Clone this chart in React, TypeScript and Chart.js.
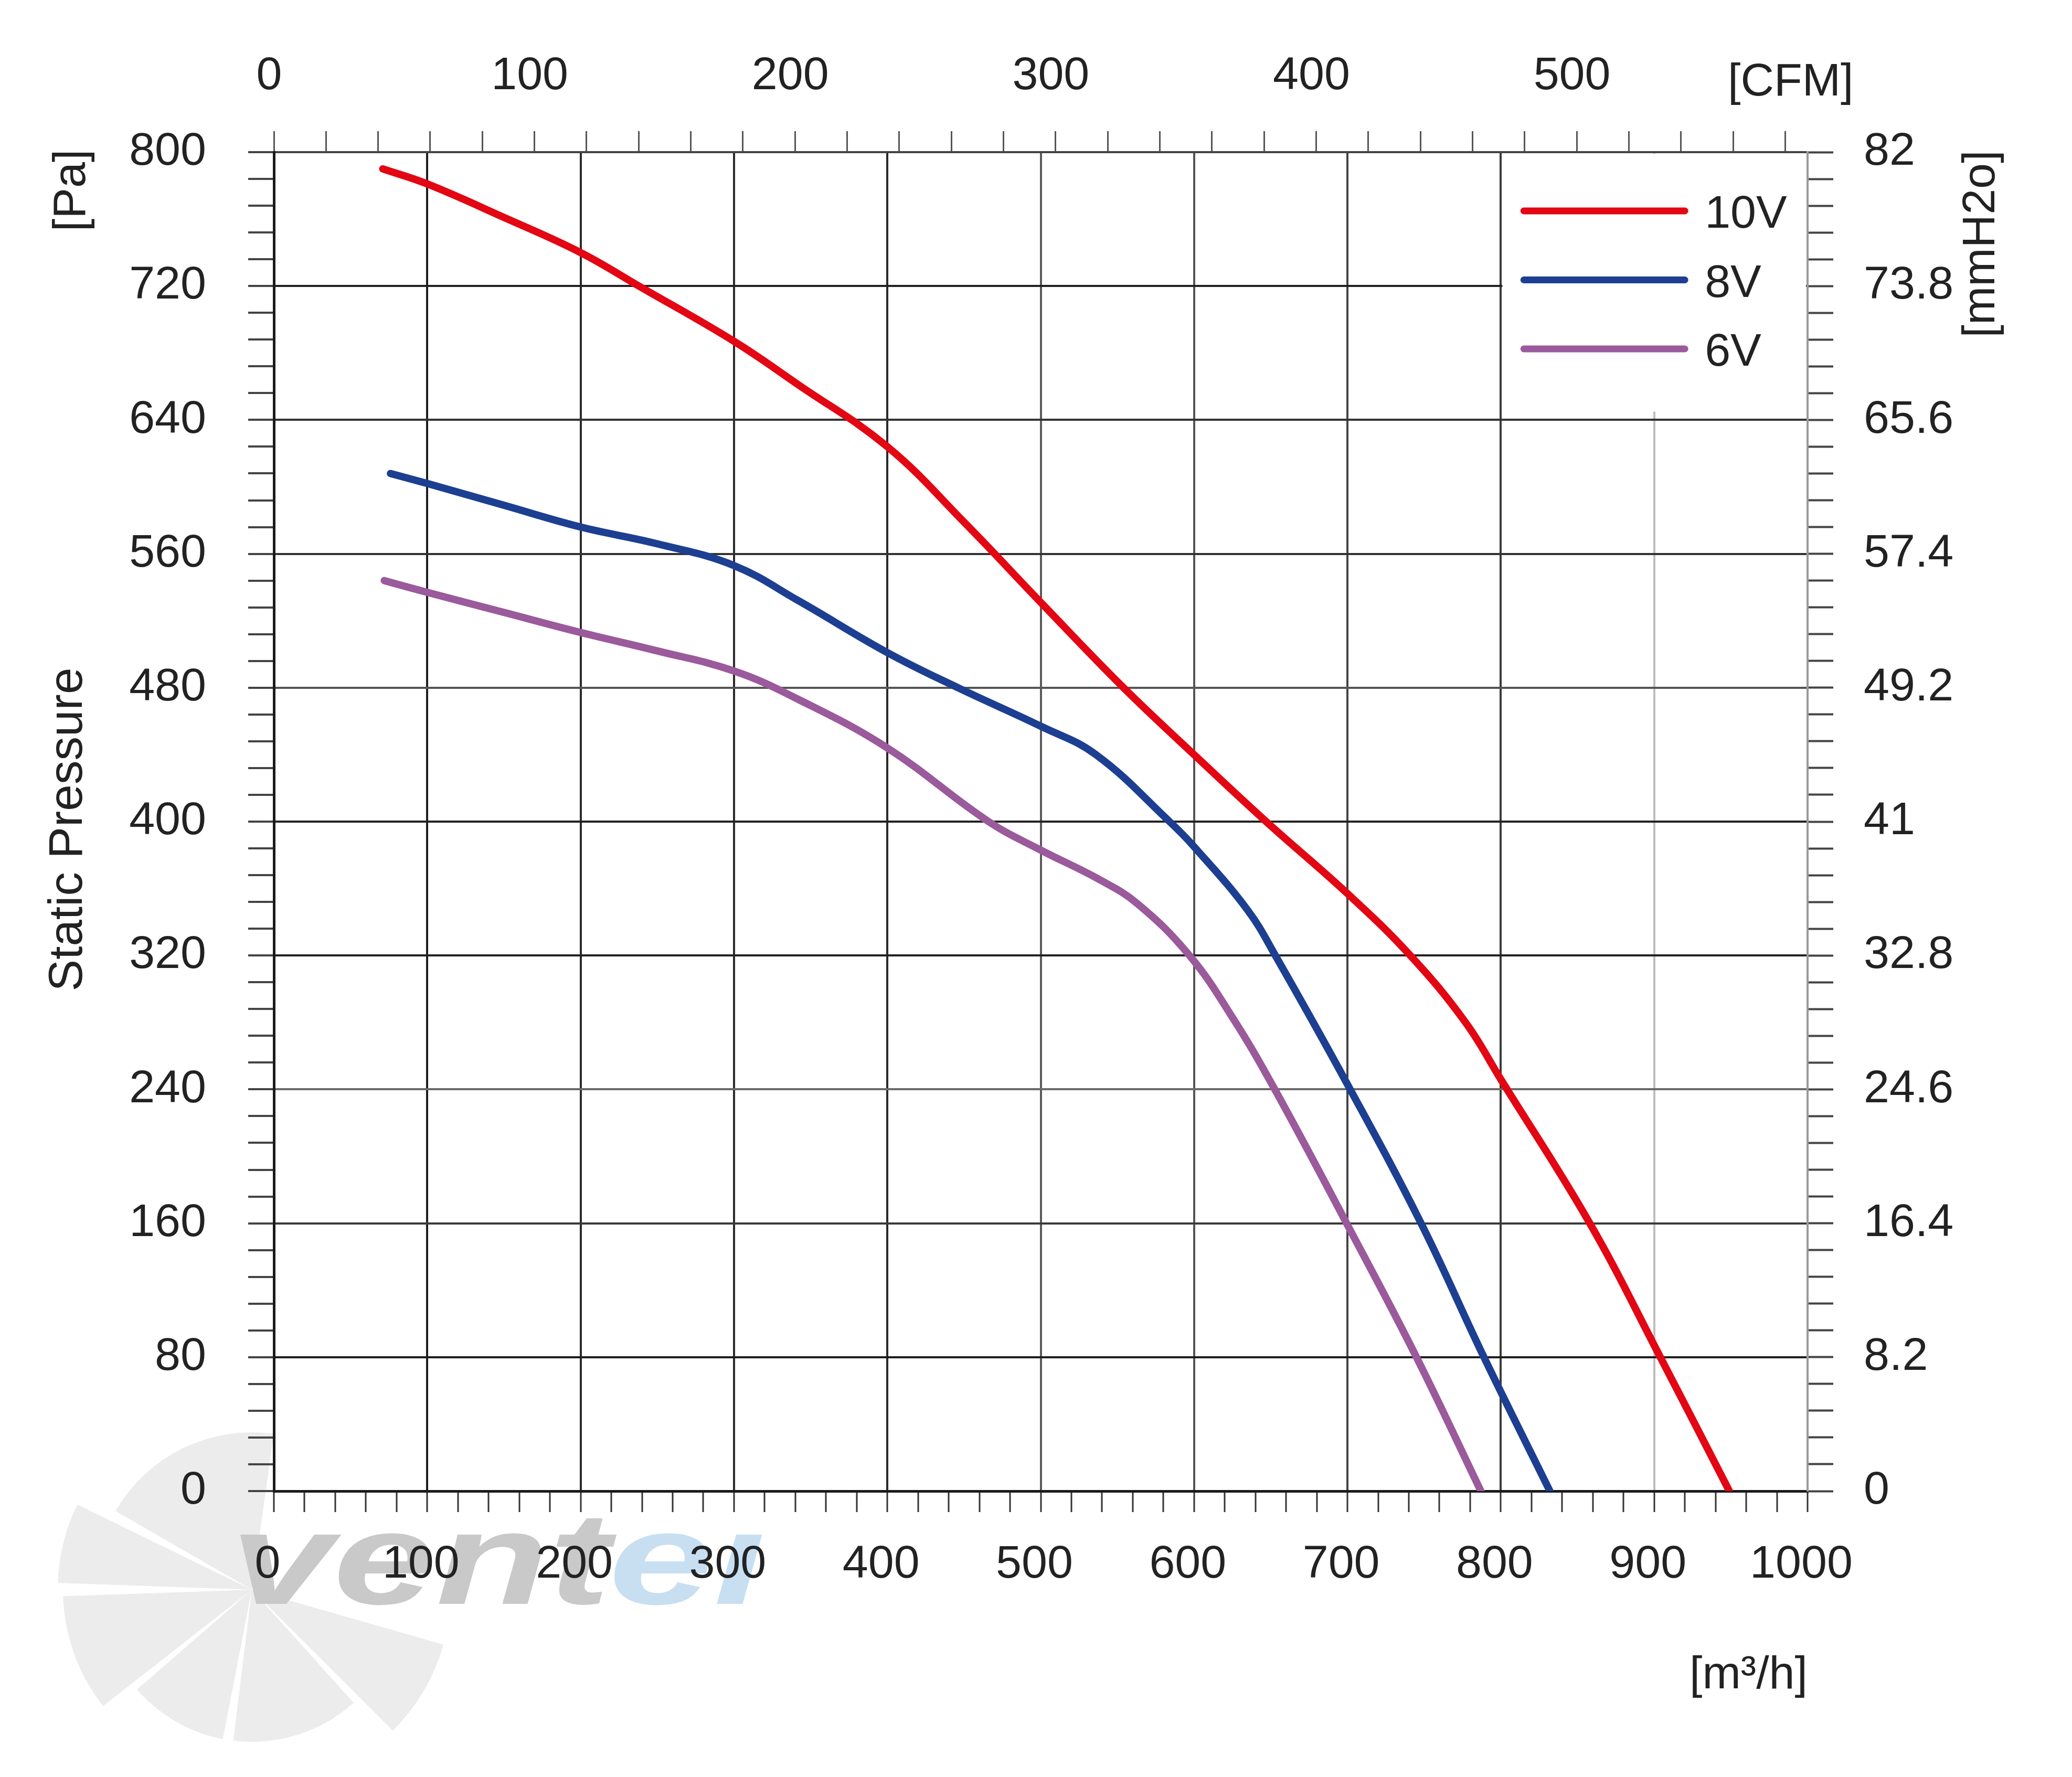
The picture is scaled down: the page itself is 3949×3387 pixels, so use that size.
import React, { useEffect, useRef } from 'react';
import { Chart, registerables } from 'chart.js';

Chart.register(...registerables);

const W = 3949;
const H = 3387;
const FONT = '"Liberation Sans", Arial, sans-serif';

// ---- data ----
const seriesLabels = ['10V', '8V', '6V'];
const seriesColors = ['#e30613', '#1d3f92', '#9a5a9b'];

const flow10V = [71, 100, 150, 200, 238, 300, 342, 400, 451, 500, 554, 600, 647, 700, 741, 777, 800, 858, 904, 949];
const pressure10V = [790, 781, 761, 740, 720, 687, 661, 624, 578, 531, 480, 440, 400, 357, 320, 280, 246, 160, 80, 0];

const flow8V = [76, 100, 150, 200, 250, 300, 342, 400, 446, 500, 536, 584, 600, 635, 653, 700, 748, 789, 832];
const pressure8V = [608, 602, 589, 576, 566, 553, 532, 501, 480, 457, 440, 400, 385, 347, 320, 243, 160, 80, 0];

const flow6V = [72, 100, 150, 200, 250, 300, 342, 400, 466, 500, 537, 563, 597, 625, 652, 700, 745, 787];
const pressure6V = [544, 537, 525, 513, 502, 490, 473, 444, 400, 383, 366, 351, 320, 283, 241, 159, 80, 0];

// axes
const flowMax = 1000; // m3/h
const pressureMax = 800; // Pa
const M3H_PER_CFM = 1.699;
const cfmMax = flowMax / M3H_PER_CFM;
const mmH2oLabels = ['0', '8.2', '16.4', '24.6', '32.8', '41', '49.2', '57.4', '65.6', '73.8', '82'];

// gridline shades (as they appear in the reference)
const vGridShades: Record<number, string> = { 100: '#1e1e1e', 200: '#2a2a2a', 300: '#2a2a2a', 400: '#2a2a2a', 500: '#5a5a5a', 600: '#555555', 700: '#444444', 800: '#3a3a3a', 900: '#bdbdbd' };
const hGridShades: Record<number, string> = { 80: '#1e1e1e', 160: '#3a3a3a', 240: '#6a6a6a', 320: '#222222', 400: '#222222', 480: '#555555', 560: '#333333', 640: '#333333', 720: '#222222' };

const series = [
  { label: seriesLabels[0], color: seriesColors[0], xs: flow10V, ys: pressure10V },
  { label: seriesLabels[1], color: seriesColors[1], xs: flow8V, ys: pressure8V },
  { label: seriesLabels[2], color: seriesColors[2], xs: flow6V, ys: pressure6V },
];

const tickFont = { family: FONT, size: 88 };
const TRANSPARENT = 'rgba(0,0,0,0)';

const watermarkPlugin = {
  id: 'watermark',
  beforeDraw(chart: any) {
    const ctx = chart.ctx as CanvasRenderingContext2D;
    ctx.save();
    const cx = 480, cy = 3030;
    const blades: [number, number, number][] = [
      [-150, -82, 300],
      [-178, -154, 370],
      [142, 178, 360],
      [101, 139, 290],
      [48, 97, 290],
      [16, 45, 380],
    ];
    ctx.fillStyle = '#ececec';
    blades.forEach(([a1, a2, r]) => {
      ctx.beginPath();
      ctx.moveTo(cx, cy);
      ctx.arc(cx, cy, r, (a1 * Math.PI) / 180, (a2 * Math.PI) / 180);
      ctx.closePath();
      ctx.fill();
    });
    // logo text
    ctx.font = `italic bold 250px ${FONT}`;
    ctx.textBaseline = 'alphabetic';
    ctx.textAlign = 'left';
    const w1 = ctx.measureText('vent').width;
    ctx.save();
    ctx.translate(439, 3057);
    ctx.scale(724 / w1, 1);
    ctx.fillStyle = '#c9c9c9';
    ctx.fillText('vent', 0, 0);
    ctx.restore();
    const w2 = ctx.measureText('e\u0131').width;
    ctx.save();
    ctx.translate(1160, 3057);
    ctx.scale(300 / w2, 1);
    ctx.fillStyle = '#c8dff2';
    ctx.fillText('e\u0131', 0, 0);
    ctx.restore();
    ctx.restore();
  },
};

const legendPlugin = {
  id: 'boxLegend',
  beforeDatasetsDraw(chart: any) {
    const { ctx, chartArea, scales } = chart;
    const x0 = scales.x.getPixelForValue(800) + 3;
    const yb = scales.y.getPixelForValue(645);
    ctx.save();
    ctx.fillStyle = '#ffffff';
    ctx.fillRect(x0, chartArea.top + 3, chartArea.right - 3 - x0, yb - chartArea.top - 3);
    const lx1 = scales.x.getPixelForValue(815);
    const lx2 = scales.x.getPixelForValue(920);
    const tx = scales.x.getPixelForValue(933);
    chart.data.datasets.forEach((ds: any, i: number) => {
      const y = chartArea.top + 112 + i * 131.5;
      ctx.strokeStyle = ds.borderColor;
      ctx.lineWidth = 13;
      ctx.lineCap = 'round';
      ctx.beginPath();
      ctx.moveTo(lx1, y);
      ctx.lineTo(lx2, y);
      ctx.stroke();
      ctx.fillStyle = '#222';
      ctx.font = `88px ${FONT}`;
      ctx.textAlign = 'left';
      ctx.textBaseline = 'middle';
      ctx.fillText(ds.label, tx, y + 8);
    });
    ctx.restore();
  },
};

const titlesPlugin = {
  id: 'axisTitles',
  afterDraw(chart: any) {
    const { ctx, chartArea } = chart;
    ctx.save();
    ctx.fillStyle = '#222';
    const rotText = (t: string, x: number, y: number, size: number) => {
      ctx.save();
      ctx.translate(x, y);
      ctx.rotate(-Math.PI / 2);
      ctx.font = `${size}px ${FONT}`;
      ctx.textAlign = 'center';
      ctx.textBaseline = 'middle';
      ctx.fillText(t, 0, 0);
      ctx.restore();
    };
    rotText('[Pa]', 138, 363, 88);
    rotText('Static Pressure', 131, (chartArea.top + chartArea.bottom) / 2 + 15, 91);
    rotText('[mmH2o]', 3777, 465, 88);
    ctx.font = `88px ${FONT}`;
    ctx.textBaseline = 'alphabetic';
    ctx.textAlign = 'left';
    ctx.fillText('[CFM]', 3293, 182);
    ctx.textAlign = 'right';
    ctx.fillText('[m\u00b3/h]', chartArea.right, 3218);
    ctx.restore();
  },
};

export default function App() {
  const ref = useRef<HTMLCanvasElement>(null);
  useEffect(() => {
    if (!ref.current) return;
    const chart = new Chart(ref.current, {
      type: 'line',
      data: {
        datasets: series.map((s) => ({
          label: s.label,
          data: s.xs.map((x, i) => ({ x, y: s.ys[i] })),
          borderColor: s.color,
          backgroundColor: s.color,
          borderWidth: 14,
          pointRadius: 0,
          tension: 0.4,
          borderCapStyle: 'round' as const,
          borderJoinStyle: 'round' as const,
          fill: false,
          xAxisID: 'x',
          yAxisID: 'y',
        })),
      },
      options: {
        responsive: false,
        animation: false,
        devicePixelRatio: 1,
        layout: { padding: 0 },
        plugins: { legend: { display: false }, tooltip: { enabled: false } },
        scales: {
          x: {
            type: 'linear',
            position: 'bottom',
            min: 0,
            max: flowMax,
            afterFit: (s: any) => { s.height = H - 2842; },
            border: { display: true, color: '#1a1a1a', width: 5 },
            grid: {
              color: (c: any) => { const v = c.tick ? c.tick.value : -1; return v % 100 === 0 && vGridShades[v] ? vGridShades[v] : TRANSPARENT; },
              lineWidth: 4,
              tickColor: '#333',
              tickWidth: 3,
              tickLength: 40,
            },
            ticks: {
              stepSize: 20,
              autoSkip: false,
              maxRotation: 0,
              padding: 48,
              labelOffset: -12,
              font: tickFont,
              color: '#222',
              callback: (v: any) => (Number(v) % 100 === 0 ? String(v) : ''),
            },
          },
          x2: {
            type: 'linear',
            position: 'top',
            min: 0,
            max: cfmMax,
            afterFit: (s: any) => { s.height = 290; },
            border: { display: true, color: '#444', width: 4 },
            grid: { drawOnChartArea: false, tickColor: '#555', tickWidth: 3, tickLength: 40 },
            ticks: {
              stepSize: 20,
              includeBounds: false,
              autoSkip: false,
              maxRotation: 0,
              padding: 51,
              labelOffset: -9,
              font: tickFont,
              color: '#222',
              callback: (v: any) => (Number(v) % 100 === 0 ? String(v) : ''),
            },
          },
          y: {
            type: 'linear',
            position: 'left',
            min: 0,
            max: pressureMax,
            afterFit: (s: any) => { s.width = 522; },
            border: { display: true, color: '#1a1a1a', width: 5 },
            grid: {
              color: (c: any) => { const v = c.tick ? c.tick.value : -1; return hGridShades[v] ? hGridShades[v] : TRANSPARENT; },
              lineWidth: 4,
              tickColor: '#444',
              tickWidth: 4,
              tickLength: 49,
            },
            ticks: {
              stepSize: 16,
              autoSkip: false,
              padding: 80,
              font: tickFont,
              color: '#222',
              callback: (v: any) => (Number(v) % 80 === 0 ? String(v) : ''),
            },
          },
          y2: {
            type: 'linear',
            position: 'right',
            min: 0,
            max: pressureMax,
            afterFit: (s: any) => { s.width = W - 3445; },
            border: { display: true, color: '#9a9a9a', width: 4 },
            grid: { drawOnChartArea: false, tickColor: '#444', tickWidth: 4, tickLength: 49 },
            ticks: {
              stepSize: 16,
              autoSkip: false,
              padding: 58,
              font: tickFont,
              color: '#222',
              callback: (v: any) => (Number(v) % 80 === 0 ? mmH2oLabels[Number(v) / 80] : ''),
            },
          },
        },
      } as any,
      plugins: [watermarkPlugin, legendPlugin, titlesPlugin],
    });
    return () => chart.destroy();
  }, []);
  return (
    <div style={{ position: 'fixed', left: 0, top: 0, width: W, height: H, background: '#ffffff' }}>
      <canvas ref={ref} width={W} height={H} style={{ width: W, height: H, display: 'block' }} />
    </div>
  );
}
